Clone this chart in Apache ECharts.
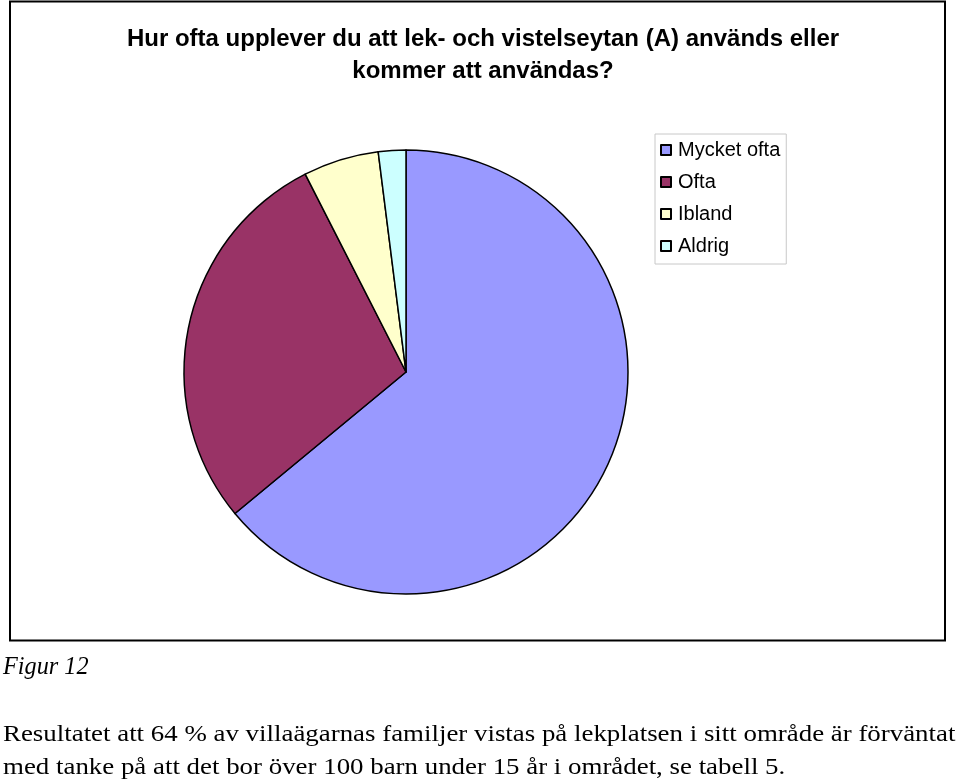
<!DOCTYPE html>
<html>
<head>
<meta charset="utf-8">
<script src="https://cdn.jsdelivr.net/npm/echarts@6/dist/echarts.min.js"></script>
<style>
html,body{margin:0;padding:0;background:#fff;}
#main{width:960px;height:783px;}
</style>
</head>
<body>
<div id="main"></div>
<script>
const categories = ['Mycket ofta', 'Ofta', 'Ibland', 'Aldrig'];
const values = [64, 28.5, 5.5, 2];
const colors = ['#9999FF', '#993366', '#FFFFCC', '#CCFFFF'];
const titleLines = ['Hur ofta upplever du att lek- och vistelseytan (A) används eller', 'kommer att användas?'];
const captionLabel = 'Figur 12';
const paragraphLines = [
  'Resultatet att 64 % av villaägarnas familjer vistas på lekplatsen i sitt område är förväntat',
  'med tanke på att det bor över 100 barn under 15 år i området, se tabell 5.'
];

const chart = echarts.init(document.getElementById('main'), null, {renderer: 'canvas'});
const option = {
  animation: false,
  backgroundColor: '#ffffff',
  title: {
    text: titleLines.join('\n'),
    left: 478,
    textAlign: 'center',
    top: 18,
    textStyle: {
      fontFamily: 'Liberation Sans, Arial, sans-serif',
      fontWeight: 'bold',
      fontSize: 24,
      lineHeight: 32,
      color: '#000'
    }
  },
  legend: {
    orient: 'vertical',
    left: 655,
    top: 134,
    data: categories,
    icon: 'rect',
    itemWidth: 10,
    itemHeight: 10,
    itemGap: 12,
    padding: [6, 6, 8, 5],
    borderColor: '#c8c8c8',
    borderWidth: 1,
    textStyle: {
      fontFamily: 'Liberation Sans, Arial, sans-serif',
      fontSize: 20,
      lineHeight: 20,
      color: '#000',
      padding: [0, 0, 0, 2]
    }
  },
  graphic: [
    {
      type: 'rect',
      shape: {x: 10, y: 1.5, width: 935, height: 639},
      style: {fill: 'none', stroke: '#000', lineWidth: 2},
      z: 0
    },
    {
      type: 'text',
      x: 3,
      y: 655,
      scaleX: 0.97,
      style: {
        text: captionLabel,
        font: 'italic 25px "Liberation Serif", serif',
        fill: '#000'
      }
    },
    {
      type: 'text',
      x: 3,
      y: 718,
      scaleX: 1.12,
      style: {
        text: paragraphLines.join('\n'),
        font: '24px "Liberation Serif", serif',
        lineHeight: 33,
        fill: '#000'
      }
    }
  ],
  series: [{
    type: 'pie',
    center: [406, 372],
    radius: 222,
    startAngle: 90,
    clockwise: true,
    label: {show: false},
    labelLine: {show: false},
    itemStyle: {borderColor: '#000', borderWidth: 1.5},
    emphasis: {disabled: true},
    data: categories.map((c, i) => ({name: c, value: values[i], itemStyle: {color: colors[i]}}))
  }]
};
chart.setOption(option);
</script>
</body>
</html>
